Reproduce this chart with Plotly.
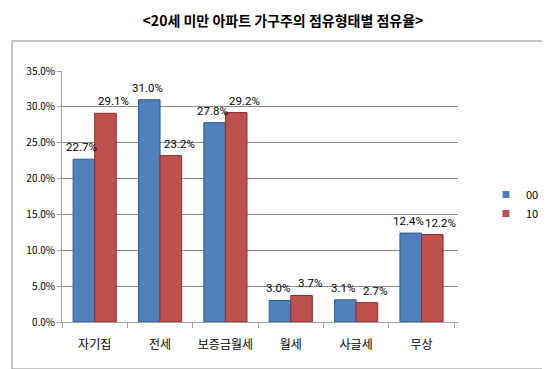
import plotly.graph_objects as go

categories = ["자기집", "전세", "보증금월세", "월세", "사글세", "무상"]
series_00 = [22.7, 31.0, 27.8, 3.0, 3.1, 12.4]
series_10 = [29.1, 23.2, 29.2, 3.7, 2.7, 12.2]
series_names = ["00", "10"]
y_ticks = [0, 5, 10, 15, 20, 25, 30, 35]
y_tick_labels = [f"{v:.1f}%" for v in y_ticks]

font_family = "Noto Sans CJK KR, Noto Sans, sans-serif"
label_font = "Roboto, Noto Sans, sans-serif"

fig = go.Figure()
series = [
    (series_names[0], series_00, "#4F81BD", "#2F5A8C", -13),
    (series_names[1], series_10, "#C0504D", "#8B2E2C", 19),
]
annotations = []
for name, vals, color, edge, shift in series:
    fig.add_trace(go.Bar(
        x=categories, y=vals, name=name, showlegend=False,
        marker=dict(color=color, line=dict(color=edge, width=1)),
        hoverinfo="x+y",
    ))
    fig.add_trace(go.Scatter(
        x=[None], y=[None], mode="markers", name=name, showlegend=True,
        marker=dict(symbol="square", size=7, color=color),
    ))
    for c, v in zip(categories, vals):
        annotations.append(dict(
            x=c, y=v, xref="x", yref="y", text=f"{v:.1f}%",
            showarrow=False, xanchor="center", yanchor="bottom",
            xshift=shift, yshift=3,
            font=dict(size=11.5, color="#000000", family=label_font),
        ))

L, R, T, B = 54, 100, 63, 55
W, H = 550, 369
pw, ph = W - L - R, H - T - B

def px_x(px):
    return (px - L) / pw

def px_y(py):
    return (H - B - py) / ph

fig.update_layout(
    width=W, height=H,
    margin=dict(l=L, r=R, t=T, b=B, autoexpand=False),
    paper_bgcolor="white", plot_bgcolor="white",
    barmode="group", bargap=0.34, bargroupgap=0,
    font=dict(family=font_family, size=11, color="#000000"),
    title=dict(text="<b>&lt;20세 미만 아파트 가구주의 점유형태별 점유율&gt;</b>",
               x=0.5, xanchor="center", y=0.965, yanchor="middle",
               font=dict(size=14, family=font_family, color="#000000")),
    showlegend=True,
    legend=dict(x=px_x(478), xanchor="left", y=px_y(196), yanchor="middle",
                font=dict(size=11), itemwidth=30, tracegroupgap=6,
                bgcolor="rgba(0,0,0,0)"),
    annotations=annotations,
    xaxis=dict(showline=True, linecolor="#A0A0A0", ticks="outside",
               tickson="boundaries", ticklen=5, tickcolor="#A0A0A0",
               ticklabelstandoff=12, tickfont=dict(size=12), tickangle=0,
               automargin=False, showgrid=False),
    yaxis=dict(range=[0, 35], tickvals=y_ticks, ticktext=y_tick_labels,
               showline=True, linecolor="#A0A0A0", ticks="outside",
               ticklen=4, tickcolor="#A0A0A0", automargin=False,
               showgrid=True, gridcolor="#8C8C8C", gridwidth=1,
               zeroline=False, tickfont=dict(size=10)),
    shapes=[dict(type="rect", xref="paper", yref="paper",
                 x0=px_x(4), x1=px_x(541), y0=px_y(361), y1=px_y(33),
                 line=dict(color="#8C8C8C", width=1), layer="below")],
)

fig.write_html("out.html")
